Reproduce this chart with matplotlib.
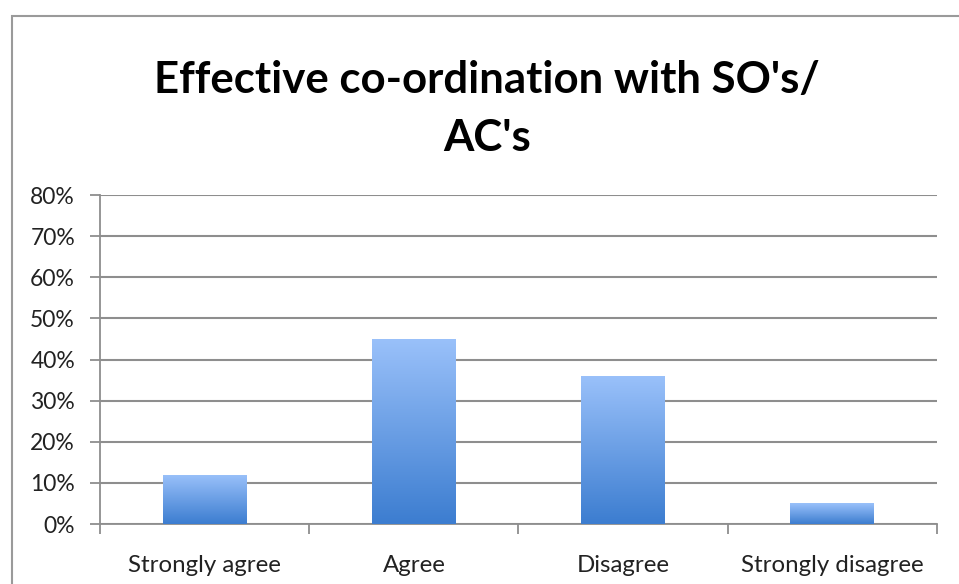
import numpy as np
import matplotlib
matplotlib.use('Agg')
import matplotlib.pyplot as plt
from matplotlib.colors import LinearSegmentedColormap
from matplotlib.ticker import FixedLocator, PercentFormatter

# ── data ─────────────────────────────────────────────────────────────────────
categories = ['Strongly agree', 'Agree', 'Disagree', 'Strongly disagree']
values = [12, 45, 36, 5]          # percent
yticks = [0, 10, 20, 30, 40, 50, 60, 70, 80]
title = "Effective co-ordination with SO's/\nAC's"

GRID = '#8e8e8e'
grad = LinearSegmentedColormap.from_list('bar', ['#3c7dd0', '#9ac1fa'])

fig = plt.figure(figsize=(9.59, 5.84), dpi=100)
ax = fig.add_axes([0.1043, 0.1027, 0.8727, 0.5633])

x = np.arange(len(categories))
bars = ax.bar(x, values, width=0.4, color='none', zorder=3)

# vertical gradient fill clipped to each bar
g = np.linspace(0, 1, 256).reshape(-1, 1)
for b in bars:
    x0, w, h = b.get_x(), b.get_width(), b.get_height()
    im = ax.imshow(g, cmap=grad, origin='lower', aspect='auto',
                   extent=(x0, x0 + w, 0, h), zorder=3, interpolation='bilinear')
    im.set_clip_path(b)

ax.set_xlim(-0.5, len(categories) - 0.5)
ax.set_ylim(0, 80)
ax.set_yticks(yticks)
ax.yaxis.set_major_formatter(PercentFormatter(decimals=0))
ax.set_xticks(x)
ax.set_xticklabels(categories)
ax.xaxis.set_minor_locator(FixedLocator(np.arange(-0.5, len(categories), 1.0)))
ax.tick_params(axis='x', which='major', length=0, pad=22, labelsize=17.3,
               labelcolor='#222222')
ax.tick_params(axis='x', which='minor', length=7, width=1.3, color=GRID)
ax.tick_params(axis='y', length=7, width=1.3, color=GRID, pad=11,
               labelsize=16.5, labelcolor='#222222')
for lbl in ax.get_xticklabels() + ax.get_yticklabels():
    lbl.set_family('Lato')

ax.grid(axis='y', color=GRID, linewidth=1.5, zorder=0)
ax.set_axisbelow(True)
for s in ['top', 'right']:
    ax.spines[s].set_visible(False)
for s in ['left', 'bottom']:
    ax.spines[s].set_color(GRID)
    ax.spines[s].set_linewidth(1.3)

fig.text(0.508, 0.814, title, ha='center', va='center', fontsize=31.5,
         fontweight='bold', family='Lato', linespacing=1.55)

# chart frame
fig.add_artist(plt.Rectangle((12 / 959, -0.05), 1.1, 1 - 16 / 584 + 0.05,
                             transform=fig.transFigure, fill=False,
                             edgecolor='#9a9a9a', linewidth=1.5))

fig.savefig('out.png', dpi=100)
